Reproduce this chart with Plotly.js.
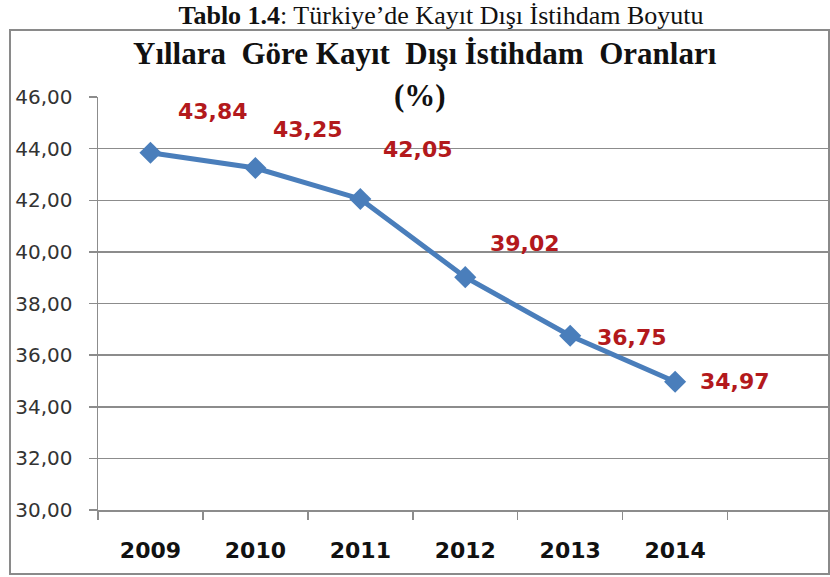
<!DOCTYPE html>
<html>
<head>
<meta charset="utf-8">
<script src="https://cdn.plot.ly/plotly-3.0.1.min.js"></script>
<style>html,body{margin:0;padding:0;background:#fff}#chart{width:830px;height:577px}</style>
</head>
<body>
<div id="chart"></div>
<script>
// ---- data ----
const years = ["2009", "2010", "2011", "2012", "2013", "2014"];
const rates = [43.84, 43.25, 42.05, 39.02, 36.75, 34.97];
const yTickVals = [30, 32, 34, 36, 38, 40, 42, 44, 46];

const pageTitle = "<b>Tablo 1.4</b>: Türkiye’de Kayıt Dışı İstihdam Boyutu";
const chartTitle = "<b>Yıllara  Göre Kayıt  Dışı İstihdam  Oranları</b>";
const chartSubTitle = "<b>(%)</b>";

// label offsets (pixels) — styling only
const labelShiftX = [63, 53, 58, 60, 62, 60];
const labelShiftY = [41, 38, 49, 34, -2, 0];

// plot area geometry in pixels
const L = 98, R = 830, T = 97, B = 510;
const W = R - L, H = B - T;
const px = x => (x - L) / W;
const py = y => (B - y) / H;

const blue = "#4A7EBB";
const red = "#B3191C";
const grid = "#8C8C8C";

const trace = {
  x: years,
  y: rates,
  type: "scatter",
  mode: "lines+markers",
  line: {color: blue, width: 5},
  marker: {symbol: "diamond", size: 17, color: blue},
  hoverinfo: "skip",
  cliponaxis: false
};

const annotations = rates.map((v, i) => ({
  x: i, y: v, xref: "x", yref: "y",
  text: v.toFixed(2).replace(".", ","),
  showarrow: false,
  xanchor: "center", yanchor: "middle",
  xshift: labelShiftX[i], yshift: labelShiftY[i],
  font: {family: "DejaVu Sans", size: 22, color: red, weight: "bold"}
}));

annotations.push({
  xref: "paper", yref: "paper", x: px(425), y: py(53),
  text: chartTitle, showarrow: false, xanchor: "center", yanchor: "middle",
  font: {family: "Liberation Serif", size: 31, color: "#111"}
});
annotations.push({
  xref: "paper", yref: "paper", x: px(420), y: py(96),
  text: chartSubTitle, showarrow: false, xanchor: "center", yanchor: "middle",
  font: {family: "Liberation Serif", size: 31, color: "#111"}
});

const layout = {
  width: 830, height: 577,
  margin: {l: L, r: 830 - R, t: T, b: 577 - B, pad: 0},
  paper_bgcolor: "#fff", plot_bgcolor: "#fff",
  separators: ",.",
  showlegend: false,
  title: {
    text: pageTitle, xref: "container", yref: "container",
    x: 441 / 830, y: 1 - 15 / 577, xanchor: "center", yanchor: "middle",
    font: {family: "Liberation Serif", size: 26, color: "#111"}
  },
  xaxis: {
    type: "category",
    range: [-0.5, (R - 150) / 105],
    tickson: "boundaries",
    ticks: "outside", ticklen: 8, tickwidth: 1.5, tickcolor: grid,
    showline: true, linecolor: grid, linewidth: 1.5,
    showgrid: false, zeroline: false,
    ticklabelstandoff: 20,
    tickfont: {family: "DejaVu Sans", size: 22, color: "#111", weight: "bold"},
    fixedrange: true
  },
  yaxis: {
    range: [30, 46],
    tickvals: yTickVals,
    tickformat: ".2f",
    ticks: "outside", ticklen: 8, tickwidth: 1.5, tickcolor: grid,
    showline: true, linecolor: grid, linewidth: 1.5,
    showgrid: true, gridcolor: grid, gridwidth: 1.5,
    zeroline: false,
    ticklabelstandoff: 12,
    tickfont: {family: "DejaVu Sans", size: 20, color: "#333"},
    fixedrange: true
  },
  shapes: [{
    type: "rect", xref: "paper", yref: "paper",
    x0: px(10), x1: px(829), y0: py(574), y1: py(30),
    line: {color: "#8A8A8A", width: 2}, fillcolor: "rgba(0,0,0,0)", layer: "below"
  }],
  annotations: annotations
};

Plotly.newPlot("chart", [trace], layout, {displayModeBar: false, staticPlot: true});
</script>
</body>
</html>
